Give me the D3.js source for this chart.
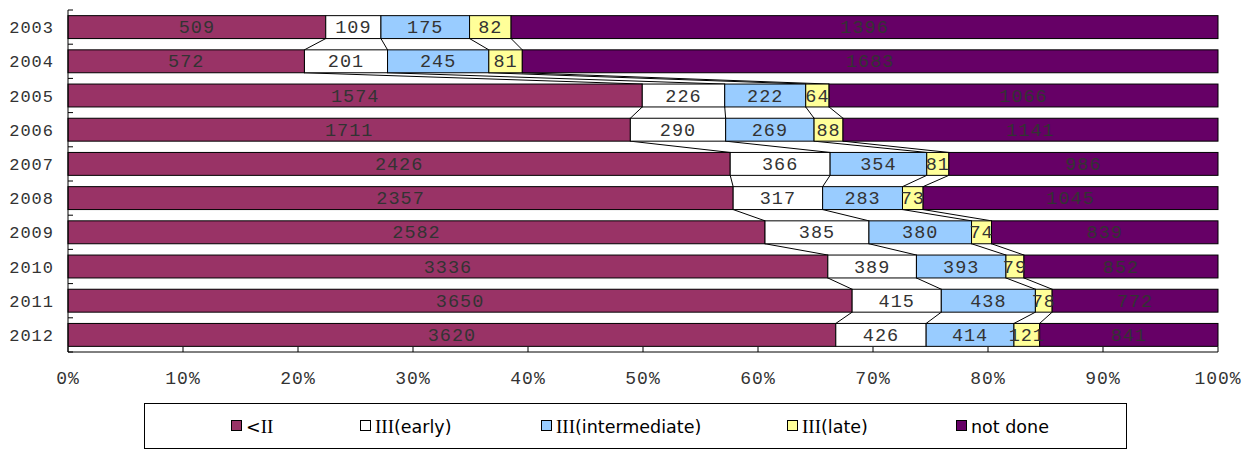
<!DOCTYPE html>
<html><head><meta charset="utf-8">
<script src="https://cdn.jsdelivr.net/npm/d3@7"></script>
<style>body{margin:0;background:#fff}svg{display:block}</style>
</head><body>
<svg id="c" width="1254" height="449"></svg>
<script>
const years = ["2003","2004","2005","2006","2007","2008","2009","2010","2011","2012"];
const seriesNames = ["<II","III(early)","III(intermediate)","III(late)","not done"];
const colors = ["#993366","#ffffff","#99ccff","#ffff99","#660066"];
const ltII = [509,572,1574,1711,2426,2357,2582,3336,3650,3620];
const early = [109,201,226,290,366,317,385,389,415,426];
const intermediate = [175,245,222,269,354,283,380,393,438,414];
const late = [82,81,64,88,81,73,74,79,78,121];
const notDone = [1396,1683,1066,1141,986,1045,839,852,772,841];
const xTicks = [0,0.1,0.2,0.3,0.4,0.5,0.6,0.7,0.8,0.9,1];

const svg = d3.select("#c");
const L = 68, R = 1218, T = 10, B = 352;
const x = d3.scaleLinear().domain([0,1]).range([L,R]);
const y = d3.scaleBand().domain(years).range([T,B]).paddingInner(0.33).paddingOuter(0.165);
const monoFont = "'Liberation Mono', 'Courier New', monospace";
const txtFill = "#333";

const series = [ltII, early, intermediate, late, notDone];
const rows = years.map((yr,i) => {
  const vals = series.map(s => s[i]);
  const tot = d3.sum(vals);
  let c = 0;
  const segs = vals.map((v,k) => { const s = {k, v, x0: c/tot, x1: (c+v)/tot}; c += v; return s; });
  return {yr, segs};
});

// series lines
const lineG = svg.append("g");
for (let i = 0; i < rows.length - 1; i++) {
  for (let k = 0; k < 4; k++) {
    lineG.append("line")
      .attr("x1", x(rows[i].segs[k].x1)).attr("y1", y(rows[i].yr) + y.bandwidth())
      .attr("x2", x(rows[i+1].segs[k].x1)).attr("y2", y(rows[i+1].yr))
      .attr("stroke", "#000").attr("stroke-width", 1);
  }
}

// bars
const rowG = svg.append("g").selectAll("g").data(rows).join("g");
rowG.selectAll("rect").data(d => d.segs.map(s => ({...s, yr: d.yr}))).join("rect")
  .attr("x", d => x(d.x0)).attr("width", d => x(d.x1) - x(d.x0))
  .attr("y", d => y(d.yr)).attr("height", y.bandwidth())
  .attr("fill", d => colors[d.k]).attr("stroke", "#000").attr("stroke-width", 1);
rowG.selectAll("text").data(d => d.segs.map(s => ({...s, yr: d.yr}))).join("text")
  .attr("x", d => x((d.x0 + d.x1) / 2)).attr("y", d => y(d.yr) + y.bandwidth()/2 + 6)
  .attr("text-anchor", "middle").attr("font-family", monoFont).attr("font-size", 18.5)
  .attr("letter-spacing", 1).attr("fill", txtFill).text(d => d.v);

// axes
const ax = svg.append("g");
ax.append("line").attr("x1", L).attr("x2", L).attr("y1", T).attr("y2", B).attr("stroke", "#000");
ax.append("line").attr("x1", L).attr("x2", R).attr("y1", B).attr("y2", B).attr("stroke", "#000");
d3.range(years.length + 1).forEach(i => {
  const yy = T + i * y.step();
  ax.append("line").attr("x1", L).attr("x2", L + 5).attr("y1", yy).attr("y2", yy).attr("stroke", "#000");
});
ax.selectAll("line.xt").data(xTicks).join("line").attr("class","xt")
  .attr("x1", d => x(d)).attr("x2", d => x(d)).attr("y1", B).attr("y2", B - 5).attr("stroke", "#000");
ax.selectAll("text.xl").data(xTicks).join("text").attr("class","xl")
  .attr("x", d => x(d)).attr("y", 384).attr("text-anchor", "middle")
  .attr("font-family", monoFont).attr("font-size", 18).attr("letter-spacing", 1).attr("fill", txtFill)
  .text(d => Math.round(d * 100) + "%");
ax.selectAll("text.yl").data(years).join("text").attr("class","yl")
  .attr("x", 54).attr("y", d => y(d) + y.bandwidth()/2 + 6).attr("text-anchor", "end")
  .attr("font-family", monoFont).attr("font-size", 17).attr("letter-spacing", 1).attr("fill", txtFill)
  .text(d => d);

// legend
const lg = svg.append("g");
lg.append("rect").attr("x", 144.5).attr("y", 403.5).attr("width", 982).attr("height", 45)
  .attr("fill", "#fff").attr("stroke", "#000");
const legX = [231, 360, 541, 787, 956];
seriesNames.forEach((n, k) => {
  lg.append("rect").attr("x", legX[k] + 0.5).attr("y", 420.5).attr("width", 10).attr("height", 10)
    .attr("fill", colors[k]).attr("stroke", "#000");
  const t = lg.append("text").attr("x", legX[k] + 15).attr("y", 432.5)
    .attr("font-family", "'DejaVu Sans', Verdana, sans-serif").attr("font-size", 17.5).attr("fill", "#000");
  const m = n.match(/^([^I]*)(I+)(.*)$/);
  if (m) {
    if (m[1]) t.append("tspan").text(m[1]);
    t.append("tspan").attr("font-family", "'Liberation Serif', serif").attr("font-size", 19).text(m[2]);
    if (m[3]) t.append("tspan").text(m[3]);
  } else t.text(n);
});
</script>
</body></html>
